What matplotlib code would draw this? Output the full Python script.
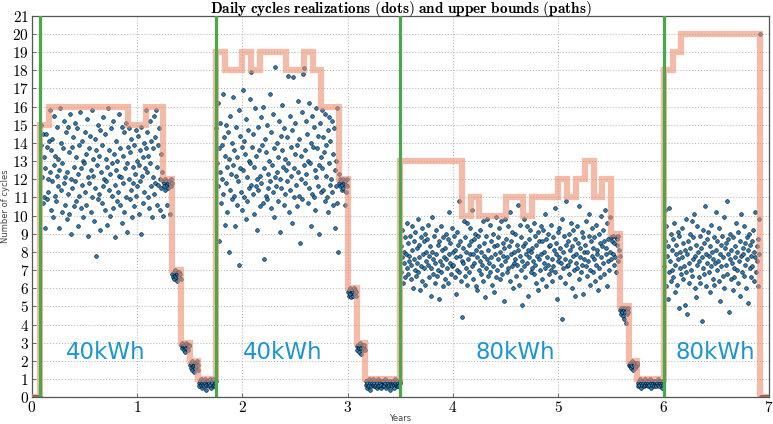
import numpy as np
import matplotlib
matplotlib.use('Agg')
import matplotlib.pyplot as plt
from matplotlib.ticker import FuncFormatter, MultipleLocator

plt.rcParams['mathtext.fontset'] = 'cm'

# upper bound on daily cycles, one value per month (84 months = 7 years)
bound_months = ([0, 15] + [16] * 9 + [15] * 2 + [16] * 2 + [12, 7, 3, 2, 1, 1]
                + [19, 18, 18, 19, 18, 19, 19, 19, 18, 18, 19, 18, 16, 16, 12, 6, 3, 1, 1, 1, 1]
                + [13] * 7 + [10, 11, 10, 10, 10, 11, 11, 10, 11, 11, 11, 12, 11, 12, 13, 11, 12, 9, 5, 2, 1, 1, 1]
                + [18, 19] + [20] * 9 + [0])

# battery installations (years) and labels
install_years = [0.078, 1.75, 3.5, 6.0]
battery_labels = ['40kWh', '40kWh', '80kWh', '80kWh']
label_x = [0.7, 2.38, 4.59, 6.49]

# realized daily cycles, one row per month (every other day), first row = month 0
cycles = [
    [0.0] * 15,
    # battery 1
    [15.0, 13.9, 12.1, 10.7, 14.5, 11.0, 13.2, 9.3, 12.6, 14.5, 10.9, 13.8, 12.0, 11.3, 14.1],
    [15.8, 12.4, 10.3, 13.6, 11.9, 14.2, 9.9, 12.8, 15.5, 11.1, 13.3, 10.8, 12.2, 14.9, 11.6],
    [13.1, 9.3, 12.5, 15.9, 11.4, 14.0, 10.2, 12.9, 13.7, 11.8, 15.2, 10.6, 12.1, 14.6, 9.8],
    [12.4, 14.9, 11.2, 13.5, 10.1, 15.6, 12.0, 9.0, 13.8, 11.5, 14.3, 12.7, 10.5, 15.1, 11.9],
    [13.2, 10.8, 14.8, 12.3, 9.4, 13.9, 11.1, 15.7, 12.6, 10.4, 14.1, 11.7, 13.0, 9.9, 12.9],
    [14.6, 11.3, 13.4, 10.6, 15.3, 12.1, 8.9, 13.7, 11.8, 14.4, 10.2, 12.5, 15.8, 11.0, 13.1],
    [12.2, 9.7, 14.2, 11.5, 13.6, 7.8, 12.8, 15.0, 10.9, 13.3, 11.2, 14.7, 9.2, 12.4, 10.7],
    [13.9, 11.6, 15.4, 12.0, 10.3, 14.5, 11.9, 13.1, 9.5, 12.7, 15.9, 11.4, 13.6, 10.0, 12.3],
    [14.8, 11.1, 12.9, 10.4, 15.2, 13.4, 11.7, 8.8, 12.5, 14.1, 10.8, 13.0, 11.3, 15.6, 12.2],
    [10.6, 13.7, 12.1, 14.9, 9.6, 11.8, 13.3, 10.2, 14.6, 12.6, 11.0, 15.1, 12.9, 9.1, 13.8],
    [14.8, 12.0, 10.9, 13.5, 11.4, 14.2, 9.9, 12.7, 11.8, 13.9, 10.5, 12.3, 14.7, 11.1, 13.0],
    [11.6, 14.4, 12.8, 10.1, 13.6, 11.9, 14.9, 9.0, 12.2, 13.2, 10.7, 14.0, 11.3, 12.6, 13.7],
    [15.8, 12.4, 14.6, 11.0, 13.3, 10.4, 15.2, 12.9, 11.6, 14.1, 9.9, 13.7, 12.1, 15.5, 11.2],
    [14.3, 11.8, 15.8, 12.7, 10.6, 13.9, 11.7, 14.8, 12.0, 10.3, 13.4, 11.5, 12.4, 10.0, 11.9],
    [11.8, 11.6, 12.0, 11.4, 11.9, 11.7, 10.6, 11.8, 11.5, 11.9, 10.1, 11.7, 11.6, 12.0, 11.8],
    [6.8, 6.6, 6.9, 6.5, 6.7, 7.0, 6.6, 6.8, 6.4, 6.9, 6.7, 6.6, 6.9, 6.8, 6.5],
    [2.9, 2.7, 3.0, 2.8, 2.6, 2.9, 2.8, 2.5, 3.0, 2.7, 2.9, 2.8, 2.6, 2.9, 2.8],
    [1.8, 1.6, 1.9, 1.5, 2.0, 1.7, 1.8, 1.4, 1.9, 1.6, 1.8, 1.7, 2.0, 1.5, 1.8],
    [0.8, 0.6, 0.9, 0.7, 1.0, 0.5, 0.8, 0.7, 0.9, 0.6, 0.8, 1.0, 0.7, 0.4, 0.9],
    [0.7, 0.9, 0.6, 0.8, 1.0, 0.7, 0.5, 0.9, 0.8, 0.6, 1.0, 0.7, 0.8, 0.6, 0.9],
    # battery 2
    [14.8, 12.9, 16.2, 11.6, 13.7, 8.6, 12.4, 15.1, 10.7, 13.9, 12.0, 16.7, 11.2, 14.3, 9.5],
    [13.3, 11.8, 15.0, 10.2, 12.7, 14.6, 8.0, 13.1, 11.4, 15.5, 12.3, 10.9, 14.0, 12.8, 16.5],
    [11.1, 13.6, 9.4, 14.9, 12.2, 10.6, 13.2, 11.9, 15.8, 7.3, 12.6, 14.4, 11.3, 13.8, 10.3],
    [16.9, 12.5, 14.1, 11.0, 13.4, 9.8, 15.3, 12.1, 10.8, 14.7, 11.5, 13.0, 16.4, 12.9, 11.7],
    [17.9, 13.8, 11.2, 14.5, 10.1, 12.7, 15.9, 11.6, 13.3, 9.2, 12.0, 14.9, 11.4, 13.6, 10.5],
    [12.2, 15.4, 11.8, 13.9, 10.7, 16.0, 12.6, 7.6, 14.2, 11.1, 13.5, 10.9, 15.0, 12.3, 11.5],
    [13.0, 16.7, 11.9, 14.6, 10.4, 12.8, 15.6, 11.3, 13.7, 9.9, 12.1, 18.2, 11.6, 14.0, 12.4],
    [10.8, 13.2, 15.2, 12.0, 9.1, 14.4, 11.5, 13.6, 16.1, 12.7, 10.6, 14.8, 11.2, 13.1, 12.5],
    [14.3, 11.9, 17.7, 12.9, 10.2, 15.5, 11.4, 13.8, 12.2, 9.6, 14.7, 17.6, 12.6, 11.0, 13.4],
    [15.1, 11.7, 13.9, 10.5, 16.3, 12.4, 14.2, 11.1, 8.5, 13.3, 12.0, 15.7, 10.9, 17.8, 12.8],
    [18.1, 13.6, 11.8, 15.2, 12.3, 14.5, 10.7, 13.0, 16.2, 11.5, 12.9, 9.4, 14.0, 11.2, 15.5],
    [13.8, 11.0, 14.9, 12.5, 10.3, 15.9, 12.1, 13.7, 11.6, 14.4, 9.0, 12.8, 15.1, 11.3, 13.2],
    [15.8, 12.6, 14.3, 11.4, 13.5, 10.8, 15.6, 12.2, 13.9, 11.0, 14.7, 10.2, 12.9, 15.4, 11.7],
    [14.1, 12.0, 15.2, 11.3, 13.4, 10.6, 14.8, 12.5, 9.3, 13.0, 11.6, 10.7, 15.9, 8.0, 12.3],
    [11.8, 12.0, 11.6, 11.9, 11.4, 11.7, 12.0, 11.5, 11.8, 10.6, 11.9, 11.7, 11.3, 12.0, 11.6],
    [5.8, 5.6, 5.9, 5.7, 6.0, 5.5, 5.8, 5.9, 5.6, 5.8, 5.7, 6.0, 5.9, 5.6, 5.8],
    [2.8, 2.6, 2.9, 2.7, 2.5, 2.8, 3.0, 2.7, 2.4, 2.9, 2.6, 2.8, 2.7, 2.9, 2.6],
    [0.7, 0.9, 0.5, 0.8, 0.6, 1.0, 0.7, 0.8, 0.4, 0.9, 0.6, 0.8, 0.7, 1.0, 0.6],
    [0.8, 0.6, 0.9, 0.7, 0.5, 0.8, 1.0, 0.6, 0.7, 0.9, 0.8, 0.5, 0.7, 0.9, 0.6],
    [0.9, 0.7, 0.6, 0.8, 1.0, 0.5, 0.7, 0.9, 0.6, 0.8, 0.7, 0.9, 0.4, 0.8, 0.7],
    [0.6, 0.8, 0.9, 0.7, 0.5, 0.8, 1.0, 0.7, 0.6, 0.9, 0.8, 0.6, 0.7, 0.9, 0.8],
    # battery 3
    [8.3, 6.9, 7.7, 9.2, 6.3, 8.0, 7.4, 8.8, 6.6, 7.9, 9.6, 7.1, 8.5, 6.8, 7.5],
    [7.8, 8.9, 6.5, 7.3, 9.4, 8.1, 6.0, 7.6, 8.6, 7.0, 9.1, 6.7, 8.2, 7.4, 9.8],
    [6.9, 8.4, 7.7, 5.9, 8.8, 7.2, 9.3, 6.4, 7.9, 8.6, 7.1, 9.0, 6.2, 8.0, 7.5],
    [8.7, 7.3, 9.5, 6.6, 7.8, 8.3, 5.6, 7.1, 9.9, 8.0, 6.8, 7.6, 8.9, 6.3, 7.4],
    [7.9, 9.2, 6.7, 8.4, 7.0, 5.4, 8.6, 7.5, 9.4, 6.9, 8.1, 7.3, 6.1, 8.8, 7.7],
    [6.5, 8.2, 7.6, 9.0, 7.1, 8.7, 6.3, 7.9, 10.2, 7.4, 8.5, 6.8, 7.2, 9.3, 8.0],
    [7.3, 8.9, 6.6, 8.1, 7.7, 5.7, 9.1, 7.0, 8.4, 10.8, 6.9, 7.8, 8.6, 6.4, 7.5],
    [4.4, 8.2, 7.4, 9.7, 6.7, 8.8, 7.1, 8.0, 6.2, 9.6, 7.6, 8.4, 6.9, 7.9, 9.3],
    [8.6, 7.2, 10.3, 6.5, 7.9, 8.7, 7.4, 9.0, 6.1, 8.1, 7.7, 5.9, 8.9, 7.0, 8.3],
    [7.5, 9.2, 6.8, 8.0, 7.3, 9.7, 6.4, 8.5, 7.8, 5.5, 8.9, 7.1, 9.8, 7.6, 6.7],
    [8.1, 7.4, 9.5, 6.9, 8.6, 7.7, 6.2, 9.0, 7.2, 8.3, 5.8, 7.9, 9.9, 6.6, 8.4],
    [7.0, 8.8, 7.6, 9.3, 6.5, 8.0, 7.3, 9.7, 6.8, 8.5, 7.8, 5.3, 8.2, 9.8, 7.5],
    [8.7, 6.9, 7.7, 9.4, 7.1, 8.3, 6.4, 10.2, 7.9, 8.6, 7.2, 9.1, 6.0, 8.0, 7.4],
    [7.6, 9.0, 6.7, 8.4, 7.3, 10.6, 8.1, 6.2, 7.8, 9.5, 7.0, 8.8, 5.1, 7.5, 8.3],
    [9.8, 7.2, 8.5, 6.6, 7.9, 9.4, 7.4, 8.1, 5.6, 8.7, 7.7, 9.2, 6.9, 8.0, 7.1],
    [8.2, 7.5, 9.6, 6.8, 8.9, 7.3, 6.3, 8.4, 7.8, 9.1, 5.9, 7.6, 8.6, 7.0, 9.4],
    [7.9, 8.6, 6.5, 9.2, 7.4, 8.0, 10.1, 7.1, 8.7, 6.1, 7.7, 9.0, 7.3, 8.3, 6.8],
    [8.4, 7.0, 9.5, 7.6, 6.4, 8.8, 7.2, 8.1, 10.4, 6.9, 7.9, 8.5, 5.4, 7.5, 9.1],
    [7.7, 9.3, 6.6, 8.2, 7.4, 9.8, 4.3, 8.0, 7.1, 8.9, 6.3, 7.6, 10.8, 8.4, 7.2],
    [8.6, 7.3, 9.0, 6.8, 8.1, 7.5, 9.6, 6.0, 8.3, 7.8, 9.2, 7.0, 5.6, 8.7, 7.4],
    [7.9, 9.4, 7.1, 8.5, 6.5, 10.5, 7.7, 8.2, 6.9, 9.1, 7.3, 8.8, 5.7, 7.6, 8.0],
    [8.4, 7.2, 9.7, 6.7, 8.0, 7.5, 10.1, 8.9, 7.0, 6.2, 8.6, 7.8, 9.3, 6.9, 8.2],
    [7.6, 8.8, 6.4, 9.5, 7.3, 8.1, 7.9, 5.9, 9.0, 7.1, 8.5, 6.6, 10.0, 7.7, 8.3],
    [9.2, 7.4, 8.6, 6.8, 10.3, 7.9, 8.2, 6.1, 9.6, 7.5, 8.7, 7.0, 9.9, 8.0, 7.6],
    [8.8, 8.6, 7.9, 8.9, 7.3, 8.5, 7.7, 8.8, 6.9, 8.4, 8.7, 7.5, 8.9, 8.1, 7.8],
    [4.8, 4.9, 4.6, 4.7, 4.9, 4.5, 4.8, 4.3, 4.7, 4.9, 4.1, 4.8, 4.6, 4.9, 4.7],
    [1.8, 1.7, 1.9, 1.6, 1.8, 2.0, 1.7, 1.5, 1.9, 1.8, 1.6, 1.9, 1.7, 1.8, 1.9],
    [0.8, 0.6, 0.9, 0.7, 1.0, 0.8, 0.5, 0.9, 0.7, 0.8, 0.6, 0.9, 0.7, 1.0, 0.8],
    [0.7, 0.9, 0.8, 0.6, 0.9, 0.7, 1.0, 0.8, 0.5, 0.9, 0.7, 0.8, 0.6, 0.9, 0.8],
    [0.9, 0.7, 0.6, 0.8, 1.0, 0.7, 0.9, 0.6, 0.8, 0.7, 0.9, 0.5, 0.8, 0.7, 0.9],
    # battery 4
    [7.2, 10.3, 8.6, 6.1, 9.4, 7.8, 5.4, 8.3, 6.9, 10.4, 7.5, 9.0, 6.4, 8.1, 7.0],
    [8.7, 6.6, 9.6, 7.3, 5.8, 8.4, 7.9, 6.2, 9.1, 7.6, 8.9, 4.9, 7.1, 8.0, 6.8],
    [7.7, 9.3, 6.5, 8.5, 7.2, 5.1, 8.1, 9.8, 6.9, 7.9, 4.6, 8.6, 7.4, 6.3, 9.0],
    [8.2, 7.0, 9.7, 6.7, 8.8, 7.6, 10.1, 6.0, 7.8, 8.4, 5.5, 7.3, 9.4, 8.0, 6.6],
    [7.5, 8.9, 6.3, 8.2, 7.7, 4.2, 9.2, 7.1, 8.5, 6.8, 10.5, 7.9, 6.1, 8.7, 7.4],
    [9.1, 6.9, 7.8, 8.3, 5.8, 7.2, 9.5, 8.0, 6.5, 7.6, 8.8, 6.2, 7.4, 10.2, 8.1],
    [7.0, 8.6, 7.5, 6.4, 9.3, 7.9, 5.3, 8.4, 7.2, 8.9, 6.7, 7.7, 9.9, 6.0, 8.2],
    [8.5, 7.3, 10.8, 6.8, 7.9, 8.7, 4.7, 7.6, 9.0, 6.5, 8.1, 7.4, 5.9, 8.8, 7.1],
    [6.6, 8.3, 7.7, 9.6, 7.0, 8.0, 6.3, 9.1, 7.5, 5.6, 8.6, 7.8, 10.1, 6.9, 8.2],
    [7.9, 9.4, 6.7, 8.5, 7.3, 6.0, 8.8, 7.6, 5.2, 8.1, 9.0, 7.1, 8.4, 6.6, 7.8],
    [8.6, 7.2, 9.2, 6.4, 8.0, 7.7, 10.2, 6.9, 8.3, 7.5, 6.1, 8.7, 7.9, 9.8, 20.0],
    [0.0] * 15,
]

# x positions: spread the samples of each month over that month
cycles = np.array(cycles)
n_months, per_month = cycles.shape
months = np.arange(n_months)[:, None] + (np.arange(per_month)[None, :] + 0.5) / per_month
x_days = (months / 12).ravel()
y_days = cycles.ravel()

fig, ax = plt.subplots(figsize=(7.73, 4.24), dpi=100)
fig.subplots_adjust(left=0.041, right=0.995, top=0.963, bottom=0.063)

ax.scatter(x_days, y_days, s=7, c='#2383c6', edgecolors='black', linewidths=0.4, zorder=2)

edges = np.arange(len(bound_months) + 1) / 12
ax.step(edges, bound_months + [bound_months[-1]], where='post', color='#ee8f6f',
        alpha=0.6, lw=4.5, zorder=3, solid_joinstyle='miter')

for xi in install_years:
    ax.axvline(xi, color='#4aa84a', lw=2.3, zorder=4)

for xl, lab in zip(label_x, battery_labels):
    ax.text(xl, 2.45, lab, fontsize=16.5, color='#1b96d4', ha='center', va='center', zorder=5)

ax.set_xlim(0, 7)
ax.set_ylim(0, 21)
ax.xaxis.set_major_locator(MultipleLocator(1))
ax.yaxis.set_major_locator(MultipleLocator(1))
bold_fmt = FuncFormatter(lambda v, p: r'$\mathbf{%d}$' % round(v))
ax.xaxis.set_major_formatter(bold_fmt)
ax.yaxis.set_major_formatter(bold_fmt)
ax.tick_params(direction='in', length=3, width=0.6, labelsize=11, pad=2, color='#555555')
ax.grid(True, linestyle=':', color='#bbbbbb', lw=0.8)
for s in ax.spines.values():
    s.set_color('#555555')
    s.set_linewidth(0.9)

# title and x label placed in figure coordinates so they stay inside the canvas
mid_x = (0.041 + 0.995) / 2
fig.text(mid_x, 0.978, r'$\mathbf{Daily\ cycles\ realizations\ (dots)\ and\ upper\ bounds\ (paths)}$',
         fontsize=11, ha='center', va='center')
fig.text(mid_x, 0.014, 'Years', fontsize=6, color='#444444', ha='center', va='center')
ax.set_ylabel('Number of cycles', fontsize=6, color='#444444', labelpad=1)

fig.savefig('out.png', dpi=100)
